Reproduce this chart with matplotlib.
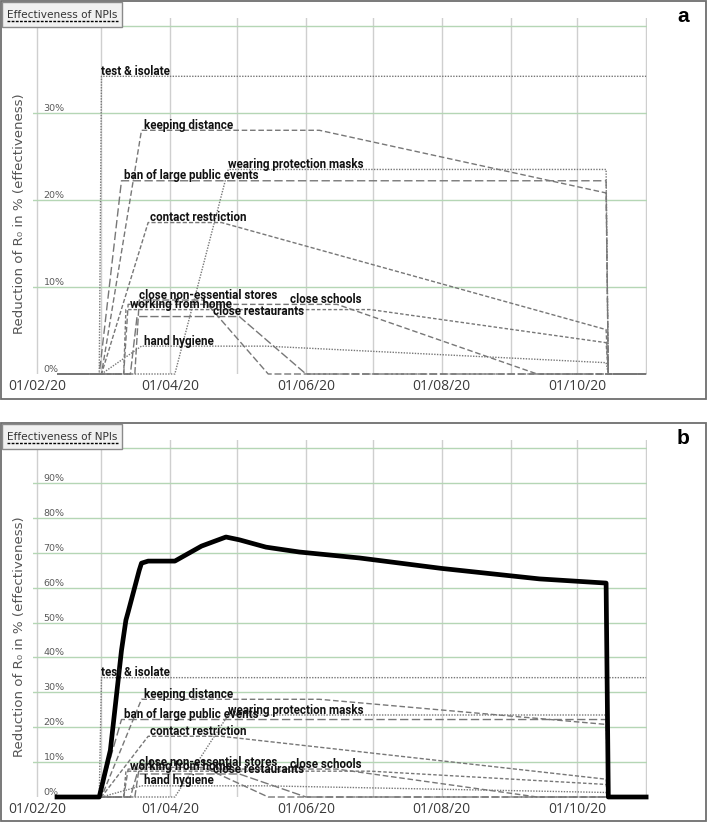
import datetime as dt
import matplotlib
matplotlib.use("Agg")
import matplotlib.pyplot as plt
import matplotlib.dates as mdates
from matplotlib.patches import Rectangle
from matplotlib.lines import Line2D
from matplotlib.transforms import blended_transform_factory


def D(m, d):
    return dt.date(2020, m, d)


# ---------------- data (breakpoints) ----------------
npi_names = ["test & isolate", "keeping distance", "ban of large public events",
             "wearing protection masks", "contact restriction",
             "close non-essential stores", "working from home",
             "close restaurants", "close schools", "hand hygiene"]

test_dates = [D(2, 10), D(2, 29), D(3, 1), D(11, 1)]
test_vals = [0, 0, 34.2, 34.2]

keep_dates = [D(2, 10), D(3, 1), D(3, 19), D(6, 7), D(10, 14), D(10, 15), D(11, 1)]
keep_vals = [0, 0, 28.0, 28.0, 20.8, 0, 0]

ban_dates = [D(2, 10), D(2, 29), D(3, 10), D(10, 14), D(10, 15), D(11, 1)]
ban_vals = [0, 0, 22.2, 22.2, 0, 0]

mask_dates = [D(2, 10), D(4, 3), D(4, 27), D(10, 14), D(10, 15), D(11, 1)]
mask_vals = [0, 0, 23.5, 23.5, 0, 0]

contact_dates = [D(2, 10), D(3, 1), D(3, 22), D(4, 24), D(10, 14), D(10, 15), D(11, 1)]
contact_vals = [0, 0, 17.4, 17.4, 5.1, 0, 0]

stores_dates = [D(2, 10), D(3, 16), D(3, 18), D(4, 16), D(5, 15), D(11, 1)]
stores_vals = [0, 0, 8.5, 8.5, 0, 0]

wfh_dates = [D(2, 10), D(3, 11), D(3, 12), D(6, 30), D(10, 14), D(10, 15), D(11, 1)]
wfh_vals = [0, 0, 7.4, 7.4, 3.6, 0, 0]

rest_dates = [D(2, 10), D(3, 14), D(3, 17), D(5, 2), D(6, 1), D(11, 1)]
rest_vals = [0, 0, 6.6, 6.6, 0, 0]

school_dates = [D(2, 10), D(3, 11), D(3, 13), D(6, 15), D(9, 13), D(11, 1)]
school_vals = [0, 0, 8.0, 8.0, 0, 0]

hyg_dates = [D(2, 10), D(3, 1), D(3, 19), D(5, 14), D(10, 14), D(10, 15), D(11, 1)]
hyg_vals = [0, 0, 3.2, 3.2, 1.3, 0, 0]

# where each NPI's label sits (date) -- label is placed on the plateau value
label_dates = [D(3, 1), D(3, 20), D(3, 11), D(4, 27), D(3, 23),
               D(3, 18), D(3, 14), D(4, 20), D(5, 25), D(3, 20)]

# combined effectiveness (panel b, thick black line)
total_dates = [D(2, 10), D(2, 29), D(3, 5), D(3, 10), D(3, 12), D(3, 13), D(3, 16),
               D(3, 18), D(3, 19), D(3, 22), D(4, 3), D(4, 15), D(4, 26), D(5, 2),
               D(5, 14), D(5, 29), D(6, 25), D(8, 1), D(9, 14), D(10, 14),
               D(10, 15), D(11, 1)]
total_vals = [0, 0, 13.4, 42, 50.7, 53, 60.2, 65, 67, 67.6, 67.6, 71.9, 74.5, 73.7,
              71.6, 70.2, 68.5, 65.5, 62.5, 61.3, 0, 0]

month_ticks = [D(m, 1) for m in range(2, 12)]
label_ticks = [D(2, 1), D(4, 1), D(6, 1), D(8, 1), D(10, 1)]
yticks_a = [0, 10, 20, 30, 40]
yticks_b = [0, 10, 20, 30, 40, 50, 60, 70, 80, 90, 100]

npi_dates = [test_dates, keep_dates, ban_dates, mask_dates, contact_dates,
             stores_dates, wfh_dates, rest_dates, school_dates, hyg_dates]
npi_vals = [test_vals, keep_vals, ban_vals, mask_vals, contact_vals,
            stores_vals, wfh_vals, rest_vals, school_vals, hyg_vals]

# ---------------- styles ----------------
npi_styles = [(0, (1, 1)), (0, (4, 2)), (0, (6, 2.5)), (0, (1, 1)), (0, (3, 1.5)),
              (0, (5, 2)), (0, (2.5, 1.5)), (0, (6, 2)), (0, (4, 2)), (0, (1, 1))]
GRAY = "#777777"
FONT = ["Open Sans", "DejaVu Sans"]
WIDE = ["DejaVu Sans"]
BOLD = ["Roboto", "DejaVu Sans"]

W, H = 708, 822
fig = plt.figure(figsize=(W / 100, H / 100), dpi=100)


def fx(x):
    return x / W


def fy(y):
    return 1 - y / H


def make_axes(top, bottom):
    left, right = 33, 647
    return fig.add_axes([fx(left), fy(bottom), fx(right) - fx(left), fy(top) - fy(bottom)])


panels = [
    dict(top=18, bottom=374, ymax=40.9, yticks=yticks_a, total=False,
         frame=(1, 1, 706, 399), letter="a"),
    dict(top=440, bottom=797, ymax=102.3, yticks=yticks_b, total=True,
         frame=(1, 423, 706, 821), letter="b"),
]

x0 = mdates.date2num(D(2, 1)) - 1.8
x1 = mdates.date2num(D(11, 1)) + 0.4

for p in panels:
    ax = make_axes(p["top"], p["bottom"])
    ax.set_xlim(x0, x1)
    ax.set_ylim(0, p["ymax"])
    for s in ax.spines.values():
        s.set_visible(False)
    # grids
    for m in month_ticks:
        ax.axvline(m, color="#cfcfcf", lw=1.0, zorder=0)
    for v in p["yticks"]:
        if v > 0:
            ax.axhline(v, color="#b5d6b5", lw=1.0, zorder=0)
    ax.set_yticks([])
    ax.set_xticks(label_ticks)
    ax.xaxis.set_major_formatter(mdates.DateFormatter("%d/%m/%y"))
    ax.tick_params(axis="x", length=0, pad=3.5, labelsize=10, labelcolor="#3a3a3a")
    for lab in ax.get_xticklabels():
        lab.set_family(FONT)
    tr = blended_transform_factory(ax.transAxes, ax.transData)
    for v in p["yticks"]:
        ax.text(0.017, v, f"{v}%", transform=tr, ha="left", va="bottom",
                fontsize=6.8, color="#5a5a5a", family=WIDE)
    ax.set_ylabel("Reduction of R₀ in % (effectiveness)", family=WIDE, fontsize=9.6,
                  color="#555555")
    ax.yaxis.set_label_coords(-0.012, 0.45)

    for i, name in enumerate(npi_names):
        ax.plot(npi_dates[i], npi_vals[i], color=GRAY, lw=1.0, ls=npi_styles[i],
                clip_on=False, zorder=2)
        plateau = max(npi_vals[i])
        ax.annotate(name, (label_dates[i], plateau), xytext=(0, 1),
                    textcoords="offset points", ha="left", va="baseline",
                    fontsize=8.4, fontweight="bold", family=BOLD, color="#111111",
                    zorder=4)
    if p["total"]:
        ax.plot(total_dates, total_vals, color="black", lw=3.4, clip_on=False,
                zorder=3, solid_joinstyle="round")

    # frame
    l, t, r, b = p["frame"]
    fig.add_artist(Rectangle((fx(l), fy(b)), fx(r) - fx(l), fy(t) - fy(b),
                             transform=fig.transFigure, fill=False,
                             edgecolor="#6e6e6e", lw=1.3, zorder=10))
    # title box
    fig.add_artist(Rectangle((fx(l + 1), fy(t + 26)), fx(122) - fx(l + 1),
                             fy(t + 1) - fy(t + 26), transform=fig.transFigure,
                             facecolor="#f1f1f1", edgecolor="#8a8a8a", lw=1.0,
                             zorder=11))
    fig.text(fx(7), fy(t + 17), "Effectiveness of NPIs", ha="left",
             va="baseline", fontsize=7.6, family=WIDE, color="#333333", zorder=12)
    fig.add_artist(Line2D([fx(7), fx(118)], [fy(t + 20.5), fy(t + 20.5)],
                          transform=fig.transFigure, color="black", lw=1.0,
                          ls=(0, (2, 1)), zorder=12))
    fig.text(fx(683), fy(t + 15), p["letter"], ha="center", va="center",
             fontsize=15, fontweight="bold", family=["Liberation Sans", "DejaVu Sans"],
             zorder=12)

fig.savefig("out.png", dpi=100)
